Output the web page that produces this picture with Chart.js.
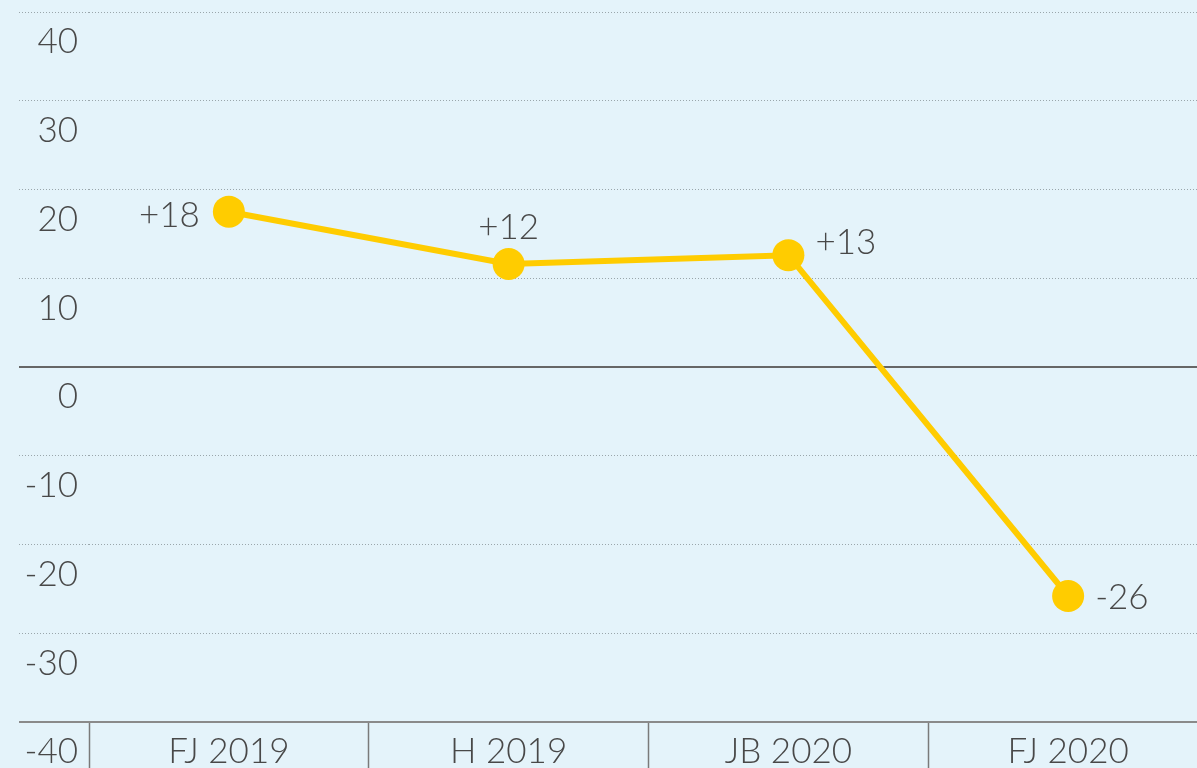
<!DOCTYPE html>
<html><head><meta charset="utf-8">
<script src="https://cdn.jsdelivr.net/npm/chart.js@4"></script>
<style>
html,body{margin:0;padding:0;overflow:hidden;background:#e4f3fa;}
#c{display:block;}
</style></head>
<body><canvas id="c" width="1208" height="768"></canvas>
<script>
const categories = ['FJ 2019', 'H 2019', 'JB 2020', 'FJ 2020'];
const values = [17.5, 11.6, 12.6, -25.8];
const valueLabels = ['+18', '+12', '+13', '-26'];
const yTicks = [40, 30, 20, 10, 0, -10, -20, -30, -40];

// label placement (style, not data)
const labelPlacement = [
  {dx: -29, dy: 4, align: 'right'},
  {dx: 0, dy: -36, align: 'center'},
  {dx: 27, dy: -12, align: 'left'},
  {dx: 27, dy: 2, align: 'left'}
];

const TEXT = '#484848';
const FONT = '"Lato Light", Lato, "Open Sans", sans-serif';
const WEIGHT = 300;
const SIZE = 35;

const valueLabelPlugin = {
  id: 'valueLabels',
  afterDatasetsDraw(chart) {
    const ctx = chart.ctx;
    const meta = chart.getDatasetMeta(0);
    ctx.save();
    ctx.font = WEIGHT + ' ' + SIZE + 'px ' + FONT;
    ctx.fillStyle = TEXT;
    ctx.textBaseline = 'middle';
    meta.data.forEach((pt, i) => {
      const p = labelPlacement[i];
      ctx.textAlign = p.align;
      ctx.fillText(valueLabels[i], pt.x + p.dx, pt.y + p.dy);
    });
    ctx.restore();
  }
};

function gridStyle(ctx) {
  const v = ctx.tick ? ctx.tick.value : null;
  if (v === 0) return {color: '#666666', width: 2, dash: []};
  if (v === -40) return {color: '#8a8a8a', width: 2, dash: []};
  return {color: '#9aa6ab', width: 1, dash: [1, 2]};
}

new Chart(document.getElementById('c'), {
  type: 'line',
  data: {
    labels: categories,
    datasets: [{
      data: values,
      borderColor: '#ffcc00',
      backgroundColor: '#ffcc00',
      borderWidth: 6,
      pointRadius: 16,
      pointHoverRadius: 16,
      pointBorderWidth: 0,
      pointBackgroundColor: '#ffcc00',
      tension: 0,
      clip: false
    }]
  },
  options: {
    responsive: false,
    animation: false,
    events: [],
    layout: {autoPadding: false, padding: {left: 19, top: 12, right: 0, bottom: 0}},
    plugins: {legend: {display: false}, tooltip: {enabled: false}},
    scales: {
      x: {
        type: 'category',
        offset: true,
        grid: {
          offset: true,
          drawOnChartArea: false,
          drawTicks: true,
          tickLength: 46,
          tickColor: '#7a7a7a',
          tickWidth: 1.5,
          color: '#7a7a7a'
        },
        border: {display: false},
        ticks: {
          color: TEXT,
          font: {family: FONT, size: SIZE, weight: WEIGHT},
          padding: -37,
          maxRotation: 0,
          autoSkip: false
        },
        afterFit(scale) { scale.height = 46; scale.paddingLeft = 0; scale.paddingRight = 0; }
      },
      y: {
        min: -40, max: 40,
        afterBuildTicks(scale) { scale.ticks = yTicks.map(v => ({value: v})); },
        grid: {
          drawTicks: true,
          tickLength: 70,
          color: c => gridStyle(c).color,
          lineWidth: c => gridStyle(c).width,
          tickColor: c => gridStyle(c).color,
          tickWidth: c => gridStyle(c).width,
          tickBorderDash: c => gridStyle(c).dash
        },
        border: {display: false, dash: c => gridStyle(c).dash},
        ticks: {
          color: TEXT,
          font: {family: FONT, size: SIZE, weight: WEIGHT},
          padding: -59,
          labelOffset: 30,
          callback: v => String(v)
        },
        afterFit(scale) { scale.width = 70; scale.paddingTop = 0; scale.paddingBottom = 0; }
      }
    }
  },
  plugins: [valueLabelPlugin]
});
</script>
</body></html>
